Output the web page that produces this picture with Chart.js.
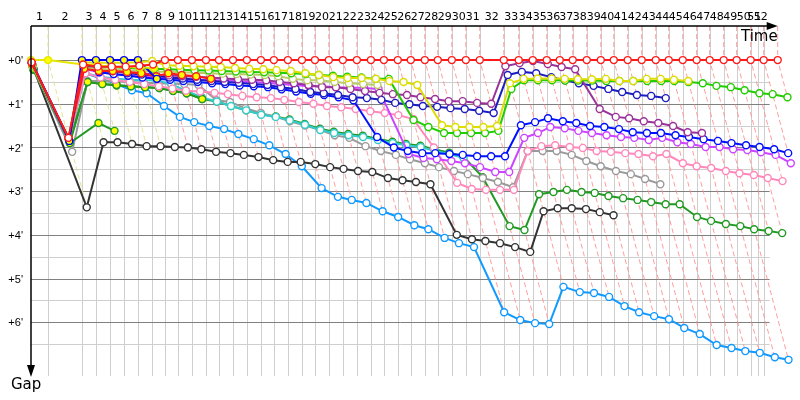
<!DOCTYPE html>
<html><head><meta charset="utf-8">
<script src="https://cdn.jsdelivr.net/npm/chart.js@4/dist/chart.umd.min.js"></script>
<style>html,body{margin:0;padding:0;background:#fff}</style>
</head><body>
<canvas id="c" width="800" height="400"></canvas>
<script>
// Leader's cumulative time (minutes) at the end of each lap, lap 0 = start
const leaderTimes = [0, 1.48, 4.43, 5.65, 6.87, 8.09, 9.30, 10.52, 11.65, 12.78, 14.00, 15.22, 16.35, 17.57, 18.78, 20.00, 21.13, 22.35, 23.57, 24.70, 25.91, 27.13, 28.35, 29.57, 30.70, 31.91, 33.04, 34.26, 35.39, 36.61, 37.83, 39.04, 41.13, 42.43, 43.65, 44.87, 46.00, 47.13, 48.35, 49.57, 50.70, 51.91, 53.13, 54.35, 55.48, 56.70, 57.91, 59.04, 60.26, 61.39, 62.61, 63.74, 64.96];
// Reference lap boundaries (minutes) used for the grid and the lap labels, laps 1..52
const gridTimes = [1.48, 4.43, 5.65, 6.87, 8.09, 9.30, 10.52, 11.65, 12.78, 14.00, 15.22, 16.35, 17.57, 18.78, 20.00, 21.13, 22.35, 23.57, 24.70, 25.91, 27.13, 28.35, 29.57, 30.70, 31.91, 33.04, 34.26, 35.39, 36.61, 37.83, 39.04, 41.13, 42.43, 43.65, 44.87, 46.00, 47.13, 48.35, 49.57, 50.70, 51.91, 53.13, 54.35, 55.48, 56.70, 57.91, 59.04, 60.26, 61.39, 62.61, 63.22, 63.74];
const lapLabels = Array.from({length: 52}, (_, i) => String(i + 1));
const yTickValues = [0, 1, 2, 3, 4, 5, 6];
const yTickLabels = ["+0'", "+1'", "+2'", "+3'", "+4'", "+5'", "+6'"];
const yMinorValues = [0.5, 1.5, 2.5, 3.5, 4.5, 5.5, 6.5];
const yellowLaps = 7; // laps drawn with yellow lap lines

// Gaps to the leader (minutes), index = lap number (0 = start)
const red = [0.05, 1.78, 0.10, 0.15, 0.15, 0.15, 0.13, 0.10, 0,0,0,0,0,0,0,0,0,0,0,0,0,0,0,0,0,0,0,0,0,0,0,0,0,0,0,0,0,0,0,0,0,0,0,0,0,0,0,0,0,0,0,0,0];
const redYellow = [0.08, 1.80, 0.20, 0.25, 0.25, 0.27, 0.30, 0.37, 0.30, 0.34, 0.37, 0.43];
const blueYellow = [0.02, 1.85, 0, 0, 0, 0, 0, 0.43];
const yellowYellow = [0, 0, 0.10, 0.12, 0.15, 0.16, 0.17, 0.18];
const yellow = [0.10, 1.80, 0.05, 0.06, 0.06, 0.06, 0.05, 0.02, 0.12, 0.13, 0.14, 0.15, 0.16, 0.18, 0.20,
  0.21, 0.23, 0.25, 0.30, 0.34, 0.39, 0.41, 0.41, 0.43, 0.48, 0.50, 0.57,
  1.49, 1.53, 1.53, 1.53, 1.51,
  0.53, 0.43, 0.42, 0.42, 0.43, 0.44, 0.44,
  0.43, 0.48, 0.48, 0.43, 0.43, 0.45, 0.48];
const green = [0.12, 1.80, 0.10, 0.14, 0.16, 0.18, 0.19, 0.20, 0.21, 0.22, 0.23, 0.24, 0.25, 0.26, 0.27,
  0.28, 0.29, 0.30, 0.32, 0.34, 0.36, 0.38, 0.40, 0.43, 0.43,
  1.37, 1.53, 1.67, 1.67, 1.67, 1.67, 1.62,
  0.66, 0.46, 0.46, 0.46, 0.47, 0.47, 0.47, 0.48, 0.48, 0.48, 0.48, 0.48, 0.48, 0.50,
  0.53, 0.59, 0.62, 0.69, 0.76, 0.78, 0.85];
const khaki = [0.15, 1.82, 0.18, 0.20, 0.22, 0.24, 0.25, 0.26, 0.27, 0.28, 0.29, 0.30, 0.31, 0.32, 0.33, 0.34, 0.37, 0.43, 0.46, 0.46, 0.50, 0.53, 0.55, 0.57];
const purple = [0.10, 1.78, 0.15, 0.22, 0.25, 0.28, 0.30, 0.33, 0.35, 0.37, 0.38, 0.40, 0.42, 0.44, 0.45,
  0.46, 0.50, 0.53, 0.57, 0.62, 0.62, 0.66, 0.71, 0.75, 0.78, 0.80, 0.85, 0.89, 0.94, 0.94, 0.98, 1.00,
  0.14, 0.07, 0.02, 0.09, 0.16, 0.21,
  1.12, 1.30, 1.33, 1.40, 1.44, 1.51, 1.65, 1.67];
const navy = [0.05, 1.80, 0.10, 0.20, 0.25, 0.30, 0.33, 0.36, 0.40, 0.42, 0.45, 0.48, 0.50, 0.52, 0.55,
  0.57, 0.62, 0.66, 0.73, 0.76, 0.80, 0.85, 0.87, 0.91, 0.98, 1.01, 1.05, 1.07, 1.10, 1.12, 1.16, 1.21,
  0.34, 0.27, 0.30, 0.39, 0.46, 0.53, 0.59, 0.66, 0.73, 0.80, 0.82, 0.87];
const blue = [0.08, 1.82, 0.15, 0.28, 0.32, 0.36, 0.40, 0.43, 0.45, 0.48, 0.50, 0.53, 0.55, 0.58, 0.60,
  0.62, 0.67, 0.72, 0.77, 0.80, 0.85, 0.92,
  1.76, 2.00, 2.08, 2.13, 2.13, 2.15, 2.17, 2.20, 2.20, 2.20,
  1.49, 1.42, 1.33, 1.40, 1.44, 1.51, 1.53, 1.58, 1.65, 1.67, 1.67, 1.72, 1.76, 1.81, 1.85, 1.90, 1.95, 1.99, 2.04, 2.13];
const violet = [0.12, 1.80, 0.20, 0.28, 0.32, 0.35, 0.38, 0.40, 0.42, 0.44, 0.45, 0.46, 0.47, 0.48, 0.50,
  0.52, 0.55, 0.57, 0.60, 0.60, 0.62, 0.63, 0.64, 0.66,
  2.15, 2.24, 2.27, 2.31, 2.36, 2.45, 2.56, 2.56,
  1.78, 1.67, 1.53, 1.56, 1.62, 1.67, 1.72, 1.76, 1.78, 1.83, 1.78, 1.88, 1.92, 1.99, 1.99, 2.04, 2.06, 2.11, 2.17, 2.36];
const pink = [0.15, 1.82, 0.30, 0.40, 0.45, 0.50, 0.55, 0.60, 0.65, 0.70, 0.72, 0.75, 0.78, 0.82, 0.85,
  0.87, 0.91, 0.96, 1.00, 1.05, 1.08, 1.12, 1.17, 1.21, 1.26, 1.35, 2.00,
  2.81, 2.95, 2.97, 2.97, 2.97,
  2.08, 1.97, 1.95, 1.99, 2.01, 2.08, 2.10, 2.13, 2.15, 2.20, 2.15, 2.36, 2.43, 2.47, 2.54, 2.59, 2.63, 2.70, 2.77];
const gray = [0.20, 2.10, 0.48, 0.48, 0.49, 0.50, 0.52, 0.53, 0.54, 0.55, 0.57, 0.92, 0.96, 1.10, 1.21,
  1.30, 1.40, 1.50, 1.60, 1.72, 1.78, 1.97, 2.08, 2.17, 2.27, 2.36, 2.45, 2.54, 2.61, 2.70, 2.79, 2.91,
  2.08, 2.08, 2.08, 2.17, 2.31, 2.43, 2.54, 2.61, 2.72, 2.84];
const teal = [0.20, 1.85, 0.30, 0.38, 0.42, 0.45, 0.46, 0.47, 0.55, 0.70, 0.85, 0.95, 1.05, 1.15, 1.25,
  1.30, 1.38, 1.48, 1.60, 1.67, 1.72, 1.76, 1.83, 1.90, 1.95, 1.99, 2.08, 2.15, 2.24];
const darkGreen = [0.22, 1.90, 0.50, 0.55, 0.58, 0.60, 0.62, 0.64, 0.70, 0.76, 0.89, 0.95, 1.05, 1.15, 1.24,
  1.29, 1.36, 1.46, 1.57, 1.64, 1.69, 1.73, 1.80, 1.87, 1.92, 1.96, 2.04, 2.12, 2.20, 2.68, 3.80, 3.89,
  3.07, 3.02, 2.97, 3.02, 3.04, 3.11, 3.16, 3.20, 3.25, 3.30, 3.30, 3.59, 3.68, 3.75, 3.80, 3.87, 3.91, 3.96];
const greenYellowA = [0.20, 1.85, 0.50, 0.55, 0.57, 0.60, 0.62, 0.64, 0.71, 0.76, 0.89];
const greenYellowB = [0.22, 1.90, 1.44, 1.62];
const black = [0.15, 3.37, 1.88, 1.88, 1.92, 1.97, 1.97, 1.99, 2.00, 2.04, 2.10, 2.13, 2.17, 2.22, 2.29,
  2.33, 2.33, 2.38, 2.45, 2.49, 2.54, 2.56, 2.70, 2.75, 2.79, 2.84, 4.00, 4.10, 4.14, 4.19, 4.28, 4.39,
  3.46, 3.39, 3.39, 3.41, 3.48, 3.55];
const lightBlue = [0.15, 1.80, 0.30, 0.42, 0.55, 0.69, 0.76, 1.05, 1.30, 1.42, 1.51, 1.58, 1.69, 1.81, 1.95,
  2.15, 2.43, 2.93, 3.13, 3.20, 3.27, 3.46, 3.59, 3.78, 3.87, 4.07, 4.19, 4.28,
  5.77, 5.95, 6.02, 6.04,
  5.19, 5.31, 5.33, 5.42, 5.63, 5.77, 5.86, 5.93, 6.13, 6.27, 6.52, 6.59, 6.66, 6.70, 6.80, 6.86];

const cars = [
  {g: red, c: '#ff1a1a', f: '#ffffff'},
  {g: yellowYellow, c: '#e6e600', f: '#ffff00'},
  {g: blueYellow, c: '#0000ff', f: '#ffff00'},
  {g: redYellow, c: '#ff1a1a', f: '#ffff00'},
  {g: yellow, c: '#dddd00', f: '#ffffff'},
  {g: green, c: '#22cc00', f: '#ffffff'},
  {g: khaki, c: '#bbcc66', f: '#ffffff'},
  {g: purple, c: '#993399', f: '#ffffff'},
  {g: navy, c: '#1c1cc0', f: '#ffffff'},
  {g: blue, c: '#0010ff', f: '#ffffff'},
  {g: violet, c: '#cc44ff', f: '#ffffff'},
  {g: pink, c: '#ff88bb', f: '#ffffff'},
  {g: greenYellowA, c: '#229922', f: '#ffff00'},
  {g: greenYellowB, c: '#229922', f: '#ffff00'},
  {g: teal, c: '#33cccc', f: '#ffffff'},
  {g: gray, c: '#999999', f: '#ffffff'},
  {g: darkGreen, c: '#229922', f: '#ffffff'},
  {g: black, c: '#333333', f: '#ffffff'},
  {g: lightBlue, c: '#1199ff', f: '#ffffff'}
];

const datasets = cars.map(car => ({
  data: car.g.map((gap, lap) => ({x: leaderTimes[lap] + gap, y: gap})),
  borderColor: car.c, backgroundColor: car.f, pointBackgroundColor: car.f, pointBorderColor: car.c,
  borderWidth: 2, pointRadius: 3.5, pointBorderWidth: 1.4, tension: 0, clip: false, fill: false
}));

const GRID_RIGHT = 64.26; // minutes, right end of the horizontal grid lines

const deco = {
  id: 'deco',
  beforeDatasetsDraw(chart) {
    const {ctx, scales: {x, y}, chartArea: ca} = chart;
    ctx.save();
    // vertical grid
    ctx.strokeStyle = '#cfcfcf'; ctx.lineWidth = 1;
    gridTimes.forEach(t => {
      const px = Math.round(x.getPixelForValue(t)) + 0.5;
      ctx.beginPath(); ctx.moveTo(px, ca.top); ctx.lineTo(px, ca.bottom); ctx.stroke();
    });
    const xr = x.getPixelForValue(GRID_RIGHT);
    ctx.strokeStyle = '#cfcfcf';
    yMinorValues.forEach(v => {
      const py = Math.round(y.getPixelForValue(v)) + 0.5;
      ctx.beginPath(); ctx.moveTo(ca.left, py); ctx.lineTo(xr, py); ctx.stroke();
    });
    ctx.strokeStyle = '#808080';
    yTickValues.forEach(v => {
      const py = Math.round(y.getPixelForValue(v)) + 0.5;
      ctx.beginPath(); ctx.moveTo(ca.left, py); ctx.lineTo(xr, py); ctx.stroke();
    });
    // lap lines
    ctx.setLineDash([5, 3]); ctx.lineWidth = 1;
    for (let lap = 1; lap < leaderTimes.length; lap++) {
      let maxGap = 0;
      cars.forEach(car => { if (car.g.length > lap && car.g[lap] > maxGap) maxGap = car.g[lap]; });
      const t = leaderTimes[lap];
      ctx.strokeStyle = lap <= yellowLaps ? 'rgba(225,225,140,0.95)' : 'rgba(255,140,140,0.85)';
      ctx.beginPath();
      ctx.moveTo(x.getPixelForValue(t), ca.top);
      ctx.lineTo(x.getPixelForValue(t), y.getPixelForValue(0));
      ctx.lineTo(x.getPixelForValue(t + maxGap), y.getPixelForValue(maxGap));
      ctx.stroke();
    }
    ctx.restore();
  },
  afterDraw(chart) {
    const {ctx, scales: {x, y}, chartArea: ca} = chart;
    ctx.save();
    ctx.strokeStyle = '#000'; ctx.fillStyle = '#000'; ctx.lineWidth = 1.5;
    // left axis with arrow
    const ax = ca.left;
    ctx.beginPath(); ctx.moveTo(ax, ca.top); ctx.lineTo(ax, ca.bottom - 8); ctx.stroke();
    ctx.beginPath(); ctx.moveTo(ax - 4, ca.bottom - 11); ctx.lineTo(ax + 4, ca.bottom - 11); ctx.lineTo(ax, ca.bottom + 1); ctx.closePath(); ctx.fill();
    // top axis with arrow
    const tip = x.getPixelForValue(leaderTimes[leaderTimes.length - 1]);
    ctx.beginPath(); ctx.moveTo(ax, ca.top); ctx.lineTo(tip - 8, ca.top); ctx.stroke();
    ctx.beginPath(); ctx.moveTo(tip - 11, ca.top - 4); ctx.lineTo(tip - 11, ca.top + 4); ctx.lineTo(tip, ca.top); ctx.closePath(); ctx.fill();
    // lap labels
    ctx.font = '11px "DejaVu Sans"'; ctx.textAlign = 'center'; ctx.textBaseline = 'middle';
    let prev = 0;
    gridTimes.forEach((t, i) => {
      const cx = (x.getPixelForValue(prev) + x.getPixelForValue(t)) / 2;
      ctx.fillText(lapLabels[i], cx, ca.top - 9);
      prev = t;
    });
    // y labels
    ctx.font = '11px "Liberation Sans"'; ctx.textAlign = 'right';
    yTickValues.forEach((v, i) => ctx.fillText(yTickLabels[i], ax - 8, y.getPixelForValue(v) + 1));
    // axis titles
    ctx.font = '15px "DejaVu Sans"'; ctx.textAlign = 'right';
    ctx.fillText('Time', tip, ca.top + 11);
    ctx.textAlign = 'left';
    ctx.fillText('Gap', 11, ca.bottom + 9);
    ctx.restore();
  }
};

new Chart(document.getElementById('c'), {
  type: 'line',
  data: {datasets},
  options: {
    responsive: false, animation: false, devicePixelRatio: 1,
    layout: {padding: {left: 31, top: 26, right: 5, bottom: 24}},
    plugins: {legend: {display: false}, tooltip: {enabled: false}},
    scales: {
      x: {type: 'linear', display: false, min: 0, max: 66.43},
      y: {type: 'linear', display: false, reverse: true, min: -0.78, max: 7.23}
    }
  },
  plugins: [deco]
});
</script>
</body></html>
